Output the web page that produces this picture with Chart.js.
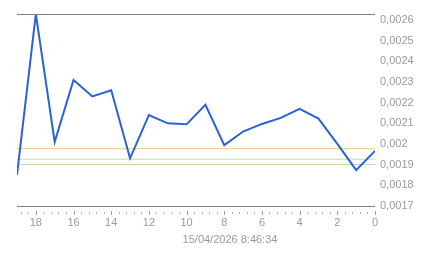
<!DOCTYPE html>
<html>
<head>
<meta charset="utf-8">
<script src="https://cdn.jsdelivr.net/npm/chart.js@4/dist/chart.umd.min.js"></script>
<style>
  html, body { margin: 0; padding: 0; background: #fff; }
  canvas { display: block; }
</style>
</head>
<body>
<canvas id="c" width="443" height="258"></canvas>
<script>
// ---- data ----
const xValues = [19, 18, 17, 16, 15, 14, 13, 12, 11, 10, 9, 8, 7, 6, 5, 4, 3, 2, 1, 0];
const seriesValues = [0.00185, 0.00263, 0.00201, 0.00231, 0.00223, 0.00226, 0.00193, 0.00214, 0.00210, 0.002095,
                      0.00219, 0.001994, 0.00206, 0.002097, 0.002126, 0.00217, 0.002123, 0.00200, 0.001873, 0.001966];
const refYellow = 0.001977;
const refGreenA = 0.001926;
const refGreenB = 0.0019;
const xTickValues = [0, 2, 4, 6, 8, 10, 12, 14, 16, 18];
const yTickValues = [0.0017, 0.0018, 0.0019, 0.002, 0.0021, 0.0022, 0.0023, 0.0024, 0.0025, 0.0026];
const xMin = 0, xMax = 19, yMin = 0.0017, yMax = 0.00263;
const minorStep = 0.4;
const axisTitle = '15/04/2026 8:46:34';

const FONT = "'Liberation Sans', Arial, sans-serif";
const TEXT = '#9a9a9a';

const refLine = (v, color) => ({
  data: [{x: xMax, y: v}, {x: xMin, y: v}],
  borderColor: color, borderWidth: 1, pointRadius: 0, fill: false, order: 2
});

const framePlugin = {
  id: 'frame',
  afterDatasetsDraw(chart) {
    const {ctx, chartArea: a, scales: {x}} = chart;
    ctx.save();
    ctx.strokeStyle = '#7f7f7f';
    ctx.lineWidth = 1;
    ctx.beginPath();
    ctx.moveTo(a.left, Math.round(a.top) + 0.5);
    ctx.lineTo(a.right, Math.round(a.top) + 0.5);
    ctx.moveTo(a.left, Math.round(a.bottom) + 0.5);
    ctx.lineTo(a.right, Math.round(a.bottom) + 0.5);
    ctx.stroke();
    // minor dots
    ctx.fillStyle = '#b0b0b0';
    const b = Math.round(a.bottom);
    for (let v = minorStep; v < xMax + 1e-9; v += minorStep) {
      const px = Math.round(x.getPixelForValue(v));
      ctx.fillRect(px, b + 6, 1, 2);
    }
    // major ticks
    ctx.fillStyle = '#a0a0a0';
    for (const v of xTickValues) {
      const px = Math.round(x.getPixelForValue(v));
      ctx.fillRect(px, b + 5, 1, 4);
    }
    ctx.restore();
  }
};

new Chart(document.getElementById('c'), {
  type: 'line',
  data: {
    datasets: [
      {
        data: xValues.map((x, i) => ({x, y: seriesValues[i]})),
        borderColor: '#2c62d8', borderWidth: 2, pointRadius: 0, fill: false, tension: 0, order: 1
      },
      refLine(refYellow, '#ebcb78'),
      refLine(refGreenA, '#b9e0a6'),
      refLine(refGreenB, '#b9e0a6')
    ]
  },
  options: {
    responsive: false,
    devicePixelRatio: 1,
    animation: false,
    layout: { padding: { left: 17, top: 14, right: 0, bottom: 0 } },
    plugins: {
      legend: { display: false },
      tooltip: { enabled: false },
      title: {
        display: true, position: 'bottom', text: axisTitle, color: TEXT,
        font: { family: FONT, size: 11, weight: 'normal' },
        padding: { top: 0, bottom: 11 }
      }
    },
    scales: {
      x: {
        type: 'linear', reverse: true, min: xMin, max: xMax,
        grid: { display: false, drawTicks: false },
        border: { display: false },
        afterBuildTicks: s => { s.ticks = xTickValues.map(v => ({value: v})); },
        afterFit: s => { s.height = 28; },
        ticks: {
          color: TEXT, font: { family: FONT, size: 11 }, padding: 11,
          maxRotation: 0, autoSkip: false,
          callback: v => String(v)
        }
      },
      y: {
        position: 'right', min: yMin, max: yMax,
        grid: { display: false, drawTicks: false },
        border: { display: false },
        afterBuildTicks: s => { s.ticks = yTickValues.map(v => ({value: v})); },
        afterFit: s => { s.width = 68; },
        ticks: {
          color: TEXT, font: { family: FONT, size: 11 }, padding: 5,
          callback: v => String(Number(v.toFixed(4))).replace('.', ',')
        }
      }
    }
  },
  plugins: [framePlugin]
});
</script>
</body>
</html>
